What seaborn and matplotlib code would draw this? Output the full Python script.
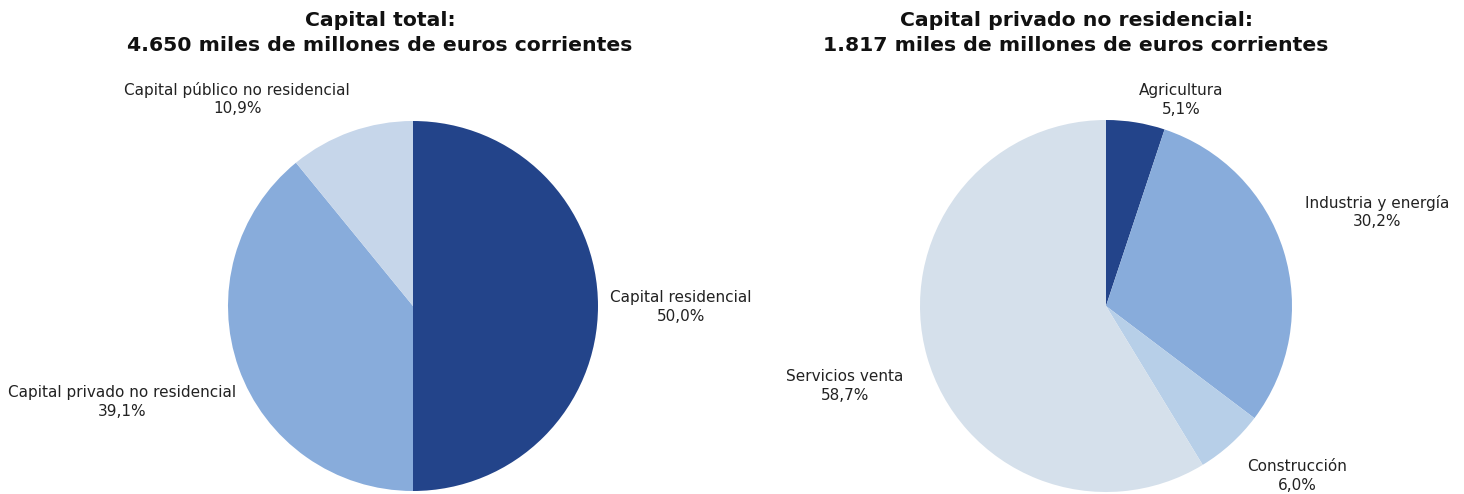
import matplotlib
matplotlib.use("Agg")
import matplotlib.pyplot as plt
import seaborn as sns

# Capital total (share of total, %)
total_labels = ["Capital residencial", "Capital privado no residencial", "Capital público no residencial"]
total_values = [50.0, 39.1, 10.9]

# Capital privado no residencial by sector (%)
sector_labels = ["Agricultura", "Industria y energía", "Construcción", "Servicios venta"]
sector_values = [5.1, 30.2, 6.0, 58.7]

title_total = "Capital total:\n4.650 miles de millones de euros corrientes"
title_sector = "Capital privado no residencial:\n1.817 miles de millones de euros corrientes"

sns.set_theme(style="white")
plt.rcParams["font.family"] = ["DejaVu Sans"]

total_colors = sns.color_palette(["#23448A", "#88ACDB", "#C6D6EA"])
sector_colors = sns.color_palette(["#23448A", "#88ACDB", "#B7CFE8", "#D5E0EB"])

W, H = 1464, 494
fig = plt.figure(figsize=(W / 100, H / 100), dpi=100)
fig.patch.set_facecolor("white")


def pie_axes(cx, cy, r):
    # square axes whose unit circle sits at pixel centre (cx, cy) with radius r
    return fig.add_axes([(cx - r) / W, (H - cy - r) / H, 2 * r / W, 2 * r / H])


def pct(v):
    return f"{v:.1f}".replace(".", ",") + "%"


def draw_pie(ax, values, colors, labels, label_pos):
    ax.pie(values, colors=colors, startangle=90, counterclock=False,
           radius=1.0, wedgeprops=dict(linewidth=0))
    ax.set_xlim(-1, 1)
    ax.set_ylim(-1, 1)
    ax.set_aspect("equal")
    ax.axis("off")
    for lab, val, (x, y) in zip(labels, values, label_pos):
        ax.text(x, y, f"{lab}\n{pct(val)}", ha="center", va="center",
                fontsize=11, color="#222222", linespacing=1.3, clip_on=False)


ax1 = pie_axes(413, 306, 185)
draw_pie(ax1, total_values, total_colors, total_labels,
         [(1.45, -0.005), (-1.573, -0.519), (-0.951, 1.119)])

ax2 = pie_axes(1106, 306, 186)
draw_pie(ax2, sector_values, sector_colors, sector_labels,
         [(0.403, 1.108), (1.46, 0.505), (1.027, -0.914), (-1.403, -0.430)])

fig.text(380 / W, 1 - 33 / H, title_total, ha="center", va="center",
         fontsize=14.7, fontweight="bold", color="#111111", linespacing=1.4)
fig.text(1076 / W, 1 - 33 / H, title_sector, ha="center", va="center",
         fontsize=14.7, fontweight="bold", color="#111111", linespacing=1.4)

fig.savefig("out.png", dpi=100, facecolor="white")
